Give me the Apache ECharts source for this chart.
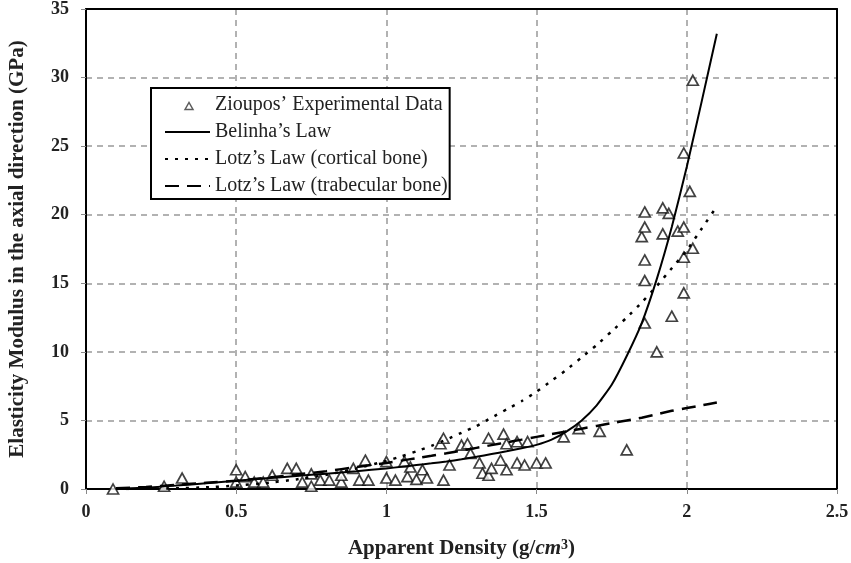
<!DOCTYPE html>
<html>
<head>
<meta charset="utf-8">
<script src="https://cdn.jsdelivr.net/npm/echarts@6/dist/echarts.min.js"></script>
<style>
  html, body { margin: 0; padding: 0; background: #fff; }
  #main { width: 851px; height: 563px; }
</style>
</head>
<body>
<div id="main"></div>
<script>
// Zioupos' experimental data: [apparent density, modulus]
var zioupos = [
  [0.09, 0.0], [0.26, 0.2], [0.32, 0.8], [0.5, 1.4], [0.5, 0.5], [0.53, 0.9],
  [0.56, 0.5], [0.59, 0.5], [0.62, 1.0], [0.67, 1.5], [0.70, 1.5], [0.72, 0.5],
  [0.75, 1.1], [0.75, 0.2], [0.78, 0.65], [0.81, 0.65], [0.85, 0.5], [0.85, 1.0],
  [0.89, 1.5], [0.91, 0.65], [0.93, 2.1], [0.94, 0.65], [1.0, 2.0], [1.0, 0.8],
  [1.03, 0.65], [1.06, 2.0], [1.07, 0.9], [1.08, 1.6], [1.10, 0.7], [1.12, 1.4],
  [1.135, 0.8], [1.18, 3.3], [1.19, 3.7], [1.19, 0.65], [1.21, 1.75], [1.25, 3.2],
  [1.27, 3.3], [1.28, 2.6], [1.31, 1.9], [1.32, 1.15], [1.34, 3.7], [1.34, 1.0],
  [1.35, 1.5], [1.38, 2.1], [1.39, 4.0], [1.40, 3.3], [1.40, 1.4], [1.435, 3.45],
  [1.435, 1.9], [1.46, 1.75], [1.47, 3.45], [1.50, 1.9], [1.53, 1.9], [1.59, 3.8],
  [1.64, 4.4], [1.71, 4.2], [1.80, 2.85], [1.86, 12.1], [1.90, 10.0], [1.95, 12.6],
  [1.99, 14.3], [1.86, 15.2], [1.86, 16.7], [1.99, 16.9], [2.02, 17.55], [1.85, 18.4],
  [1.92, 18.6], [1.97, 18.8], [1.86, 19.1], [1.99, 19.1], [1.94, 20.1], [1.86, 20.2],
  [1.92, 20.5], [2.01, 21.7], [1.99, 24.5], [2.02, 29.8]
];

// fitted laws
var lawX = [0.1, 0.2, 0.3, 0.4, 0.5, 0.6, 0.7, 0.8, 0.9, 1.0,
  1.05, 1.1, 1.15, 1.2, 1.25, 1.3, 1.35, 1.4, 1.45, 1.5, 1.55,
  1.6, 1.65, 1.7, 1.75, 1.8, 1.85, 1.9, 1.95, 2.0, 2.05, 2.1];
var belinhaY = [0.0, 0.1, 0.25, 0.42, 0.6, 0.78, 0.95, 1.12, 1.3, 1.5,
  1.62, 1.75, 1.87, 2.0, 2.17, 2.35, 2.55, 2.75, 2.97, 3.22, 3.6,
  4.2, 5.0, 6.1, 7.6, 9.7, 12.1, 15.3, 19.1, 23.5, 28.3, 33.2];
var corticalY = [0.0, 0.02, 0.05, 0.12, 0.25, 0.43, 0.7, 1.03, 1.5, 2.05,
  2.38, 2.75, 3.15, 3.6, 4.1, 4.6, 5.2, 5.8, 6.4, 7.1, 7.9,
  8.7, 9.6, 10.5, 11.5, 12.5, 13.6, 14.8, 16.1, 17.4, 19.0, 20.6];
var trabecularY = [0.05, 0.15, 0.3, 0.45, 0.6, 0.82, 1.05, 1.3, 1.6, 1.9,
  2.07, 2.25, 2.42, 2.6, 2.8, 3.0, 3.2, 3.4, 3.6, 3.8, 4.0,
  4.2, 4.4, 4.6, 4.8, 5.0, 5.2, 5.45, 5.7, 5.9, 6.1, 6.3];

var seriesNames = ["Zioupos\u2019 Experimental Data", "Belinha\u2019s Law", "Lotz\u2019s Law (cortical bone)", "Lotz\u2019s Law (trabecular bone)"];

function pairs(xs, ys) {
  return xs.map(function (x, i) { return [x, ys[i]]; });
}

var serif = "Liberation Serif";
var ink = "#222";
var chart = echarts.init(document.getElementById("main"));

// plain black frame for the top and right edges
var frameX = { type: "value", min: 0, max: 2.5, position: "top",
  axisLine: { show: true, onZero: false, lineStyle: { color: "#000", width: 2 } },
  axisTick: { show: false }, axisLabel: { show: false }, splitLine: { show: false } };
var frameY = { type: "value", min: 0, max: 35, position: "right",
  axisLine: { show: true, onZero: false, lineStyle: { color: "#000", width: 2 } },
  axisTick: { show: false }, axisLabel: { show: false }, splitLine: { show: false } };

// small triangle sitting in the middle of a 45x10 legend slot
var smallTriangle = "path://M0,0M45,10M20,9.5L24,2.5L28,9.5Z";

var option = {
  backgroundColor: "#fff",
  animation: false,
  grid: { left: 86, right: 14, top: 9, bottom: 74, outerBoundsMode: "none" },
  legend: {
    orient: "vertical",
    left: 151, top: 88,
    padding: [7, 2, 3, 13],
    itemGap: 7,
    itemWidth: 45,
    itemHeight: 10,
    backgroundColor: "#fff",
    borderColor: "#000",
    borderWidth: 2,
    textStyle: { fontFamily: serif, fontSize: 20, color: ink },
    data: [
      { name: seriesNames[0], icon: smallTriangle,
        itemStyle: { color: "#fff", borderColor: "#333", borderWidth: 1.5 } },
      { name: seriesNames[1], itemStyle: { opacity: 0 } },
      { name: seriesNames[2], itemStyle: { opacity: 0 } },
      { name: seriesNames[3], itemStyle: { opacity: 0 } }
    ]
  },
  xAxis: [{
    type: "value",
    min: 0, max: 2.5, interval: 0.5,
    name: "{b|Apparent Density (g/}{i|cm}{s|3}{b|)}",
    nameLocation: "middle",
    nameGap: 49,
    nameTextStyle: {
      rich: {
        b: { fontFamily: serif, fontWeight: "bold", fontSize: 21, color: ink },
        i: { fontFamily: serif, fontStyle: "italic", fontWeight: "bold", fontSize: 21, color: ink },
        s: { fontFamily: serif, fontWeight: "bold", fontSize: 14, color: ink, verticalAlign: "top", padding: [0, 0, 7, 0] }
      }
    },
    axisLine: { lineStyle: { color: "#000", width: 2 } },
    axisTick: { show: true, length: 5, lineStyle: { color: "#888" } },
    axisLabel: { fontFamily: serif, fontWeight: "bold", fontSize: 18, color: ink, margin: 14 },
    splitLine: { show: true, lineStyle: { color: "#999", type: [6, 5], width: 1.5 } }
  }, frameX],
  yAxis: [{
    type: "value",
    min: 0, max: 35, interval: 5,
    name: "Elasticity Modulus in the axial direction (GPa)",
    nameLocation: "middle",
    nameGap: 58,
    nameTextStyle: { fontFamily: serif, fontWeight: "bold", fontSize: 21, color: ink },
    axisLine: { lineStyle: { color: "#000", width: 2 } },
    axisTick: { show: true, length: 5, lineStyle: { color: "#888" } },
    axisLabel: { fontFamily: serif, fontWeight: "bold", fontSize: 18, color: ink, margin: 17 },
    splitLine: { show: true, lineStyle: { color: "#999", type: [6, 5], width: 1.5 } }
  }, frameY],
  series: [
    {
      name: seriesNames[0],
      type: "scatter",
      symbol: "triangle",
      symbolSize: [11, 10],
      itemStyle: { color: "#fff", borderColor: "#111", borderWidth: 1.7 },
      data: zioupos,
      z: 2
    },
    {
      name: seriesNames[1],
      type: "line",
      showSymbol: false,
      symbol: "none",
      smooth: 0.15,
      lineStyle: { color: "#000", width: 2 },
      itemStyle: { color: "#000" },
      data: pairs(lawX, belinhaY),
      z: 3
    },
    {
      name: seriesNames[2],
      type: "line",
      showSymbol: false,
      symbol: "none",
      smooth: 0.15,
      lineStyle: { color: "#000", width: 2.5, type: [3, 7] },
      itemStyle: { color: "#000" },
      data: pairs(lawX, corticalY),
      z: 3
    },
    {
      name: seriesNames[3],
      type: "line",
      showSymbol: false,
      symbol: "none",
      smooth: 0.15,
      lineStyle: { color: "#000", width: 2.5, type: [14, 8] },
      itemStyle: { color: "#000" },
      data: pairs(lawX, trabecularY),
      z: 3
    }
  ]
};

chart.setOption(option);
</script>
</body>
</html>
